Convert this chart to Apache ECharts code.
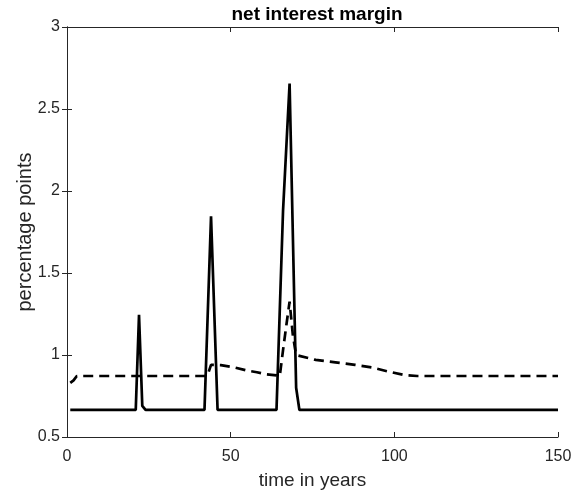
<!DOCTYPE html>
<html>
<head>
<meta charset="utf-8">
<script src="https://cdn.jsdelivr.net/npm/echarts@6/dist/echarts.min.js"></script>
<style>
  html, body { margin: 0; padding: 0; background: #fff; }
  #chart { width: 588px; height: 497px; }
</style>
</head>
<body>
<div id="chart"></div>
<script>
  // vertices of the solid line (years / percentage points)
  var solidYears  = [1, 21, 22, 23, 24, 42, 44, 46, 64, 66, 68, 70, 71, 150];
  var solidValues = [0.665, 0.665, 1.245, 0.69, 0.665, 0.665, 1.845, 0.665, 0.665, 1.88, 2.655, 0.80, 0.665, 0.665];

  // vertices of the dashed line
  var dashedYears  = [1, 2, 3, 42, 43, 44, 47, 51, 55, 58, 61, 64, 65, 66, 67, 68, 69, 70, 71, 76, 82, 88, 93, 98, 103, 107, 150];
  var dashedValues = [0.83, 0.845, 0.872, 0.872, 0.88, 0.94, 0.938, 0.925, 0.905, 0.895, 0.882, 0.876, 0.872, 1.03, 1.18, 1.325, 1.12, 1.0, 0.995, 0.97, 0.955, 0.94, 0.925, 0.9, 0.878, 0.872, 0.872];

  var xTicks = [0, 50, 100, 150];
  var yTicks = [0.5, 1, 1.5, 2, 2.5, 3];

  function pairs(xs, ys) {
    return xs.map(function (x, i) { return [x, ys[i]]; });
  }

  var axisColor = '#262626';
  var font = '"Liberation Sans", Arial, Helvetica, sans-serif';

  var chart = echarts.init(document.getElementById('chart'));
  chart.setOption({
    animation: false,
    textStyle: { fontFamily: font },
    title: {
      text: 'net interest margin',
      left: 312, top: 0, textAlign: 'center',
      textStyle: { fontSize: 19, fontWeight: 'bold', color: '#000', fontFamily: font }
    },
    grid: { left: 67, right: 30, top: 27, bottom: 60 },
    xAxis: [
      {
        type: 'value', min: xTicks[0], max: xTicks[xTicks.length - 1], interval: 50,
        name: 'time in years', nameLocation: 'middle', nameGap: 34, nameMoveOverlap: false,
        nameTextStyle: { fontSize: 19, color: axisColor },
        axisLine: { show: true, lineStyle: { color: axisColor, width: 1 } },
        axisTick: { show: true, inside: true, length: 5, lineStyle: { color: axisColor } },
        axisLabel: { fontSize: 16, color: axisColor, margin: 12 },
        splitLine: { show: false }
      },
      {
        type: 'value', position: 'top', min: xTicks[0], max: xTicks[xTicks.length - 1], interval: 50,
        axisLine: { show: true, lineStyle: { color: axisColor, width: 1 } },
        axisTick: { show: true, inside: true, length: 5, lineStyle: { color: axisColor } },
        axisLabel: { show: false },
        splitLine: { show: false }
      }
    ],
    yAxis: [
      {
        type: 'value', min: yTicks[0], max: yTicks[yTicks.length - 1], interval: 0.5,
        name: 'percentage points', nameLocation: 'middle', nameGap: 32, nameMoveOverlap: false,
        nameTextStyle: { fontSize: 20, color: axisColor },
        axisLine: { show: true, lineStyle: { color: axisColor, width: 1 } },
        axisTick: { show: true, inside: true, length: 5, lineStyle: { color: axisColor } },
        axisLabel: { fontSize: 16, color: axisColor, margin: 7 },
        splitLine: { show: false }
      },
      {
        type: 'value', position: 'right', min: yTicks[0], max: yTicks[yTicks.length - 1], interval: 0.5,
        axisLine: { show: true, lineStyle: { color: axisColor, width: 1 } },
        axisTick: { show: true, inside: true, length: 5, lineStyle: { color: axisColor } },
        axisLabel: { show: false },
        splitLine: { show: false }
      }
    ],
    series: [
      {
        type: 'line', data: pairs(dashedYears, dashedValues),
        showSymbol: false, symbol: 'none',
        lineStyle: { color: '#000', width: 2.7, type: [10, 6] }
      },
      {
        type: 'line', data: pairs(solidYears, solidValues),
        showSymbol: false, symbol: 'none',
        lineStyle: { color: '#000', width: 2.7 }
      }
    ]
  });
</script>
</body>
</html>
